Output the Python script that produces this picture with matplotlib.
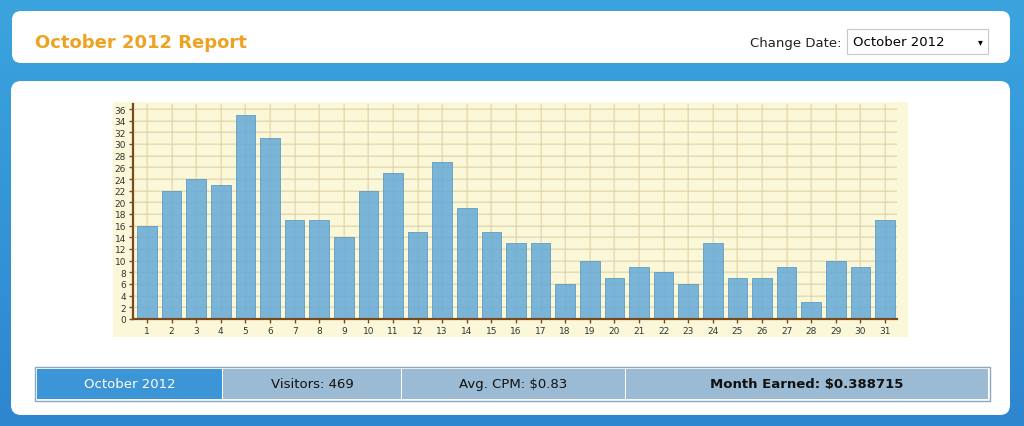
import matplotlib
matplotlib.use("Agg")
import matplotlib.pyplot as plt
import numpy as np
from matplotlib.patches import FancyBboxPatch, Rectangle
from matplotlib.ticker import MultipleLocator

# data
days = list(range(1, 32))
visitors = [16, 22, 24, 23, 35, 31, 17, 17, 14, 22, 25, 15, 27, 19, 15, 13,
            13, 6, 10, 7, 9, 8, 6, 13, 7, 7, 9, 3, 10, 9, 17]
summary_labels = ["October 2012", "Visitors: 469", "Avg. CPM: $0.83",
                  "Month Earned: $0.388715"]

W, H = 1024, 427
BG_TOP = "#3ba4de"
BG_BOT = "#2e86cf"
ORANGE = "#eda322"
BEIGE = "#fbf8da"
GRID = "#f5e5b6"
BAR = "#7ab5d8"
BAR_EDGE = "#5f9cc4"
AXIS = "#7a4a1e"
CELL = "#9bbad3"
CELL_HI = "#3b95d6"

fig = plt.figure(figsize=(W / 100, H / 100), dpi=100)

# page background in pixel coords
bg = fig.add_axes([0, 0, 1, 1])
bg.set_xlim(0, W)
bg.set_ylim(H, 0)
bg.axis("off")
grad = np.linspace(0, 1, 100).reshape(-1, 1)
cmap = matplotlib.colors.LinearSegmentedColormap.from_list("bg", [BG_TOP, BG_BOT])
bg.imshow(grad, extent=(0, W, H, 0), aspect="auto", cmap=cmap, zorder=0)

# top panel
bg.add_patch(FancyBboxPatch((12, 12), 998, 52,
                            boxstyle="round,pad=0,rounding_size=9",
                            facecolor="white", edgecolor="none", zorder=1))
bg.text(35, 43, "October 2012 Report", color=ORANGE, fontsize=13,
        fontweight="bold", ha="left", va="center", zorder=2)
bg.text(841, 43, "Change Date:", color="#222222", fontsize=9.5,
        ha="right", va="center", zorder=2)
bg.add_patch(Rectangle((847, 30), 141, 25, facecolor="white",
                       edgecolor="#c8c8c8", linewidth=0.8, zorder=2))
bg.text(853, 43, "October 2012", color="black", fontsize=9.5,
        ha="left", va="center", zorder=3)
bg.text(980, 42, "\u25be", color="black", fontsize=7,
        ha="center", va="center", zorder=3)

# main panel
bg.add_patch(FancyBboxPatch((11, 82), 999, 334,
                            boxstyle="round,pad=0,rounding_size=10",
                            facecolor="white", edgecolor="none", zorder=1))
# chart backdrop
bg.add_patch(Rectangle((113, 103), 795, 235, facecolor=BEIGE,
                       edgecolor="none", zorder=1.5))

# summary bar
cells = [(37, 222), (223, 401), (402, 625), (626, 988)]
bg.add_patch(Rectangle((35, 368), 955, 34, facecolor="white",
                       edgecolor="#8aa8bf", linewidth=1.0, zorder=2))
for i, ((x0, x1), lbl) in enumerate(zip(cells, summary_labels)):
    bg.add_patch(Rectangle((x0, 370), x1 - x0, 30,
                           facecolor=CELL_HI if i == 0 else CELL,
                           edgecolor="none", zorder=3))
    bg.text((x0 + x1) / 2, 385, lbl, fontsize=9.5, ha="center", va="center",
            color="white" if i == 0 else "#111111",
            fontweight="bold" if i == 3 else "normal", zorder=4)

# chart
left, right, top, base = 133, 897, 105, 320
ax = fig.add_axes([left / W, (H - base) / H, (right - left) / W, (base - top) / H])
ax.set_facecolor(BEIGE)
ax.bar(days, visitors, width=0.8, color=BAR, edgecolor=BAR_EDGE,
       linewidth=0.6, zorder=2)
ax.set_xlim(0.43, 31.49)
ax.set_ylim(0, 36 * (base - top) / (base - 110))
ax.set_xticks(days)
ax.yaxis.set_major_locator(MultipleLocator(2))
ax.grid(True, which="major", color=GRID, linewidth=1.2, zorder=1)
ax.set_axisbelow(True)
# faint grid showing through bars
for y in np.arange(2, 37, 2):
    ax.axhline(y, color="#5d8fb5", linewidth=0.8, alpha=0.13, zorder=3)
for d in days:
    ax.axvline(d, color="#5d8fb5", linewidth=0.8, alpha=0.1, zorder=3)
for s in ("top", "right"):
    ax.spines[s].set_visible(False)
for s in ("left", "bottom"):
    ax.spines[s].set_color(AXIS)
    ax.spines[s].set_linewidth(1.6)
ax.tick_params(axis="both", which="major", labelsize=6.5, colors=AXIS,
               labelcolor="#333333", length=3, width=1, pad=2)

fig.savefig("out.png", dpi=100)
